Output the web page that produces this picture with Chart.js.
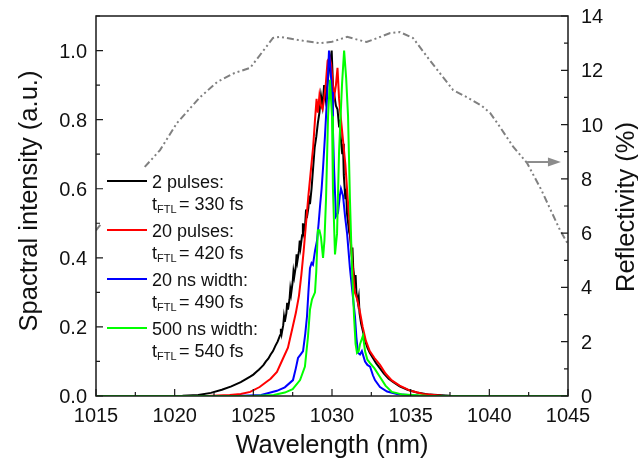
<!DOCTYPE html>
<html>
<head>
<meta charset="utf-8">
<script src="https://cdn.jsdelivr.net/npm/chart.js@4.4.0/dist/chart.umd.min.js"></script>
<style>
  html, body { margin: 0; padding: 0; background: #fff; }
</style>
</head>
<body>
<canvas id="grafico" width="638" height="465"></canvas>
<script>
// espectros: comprimento de onda (nm) e intensidade normalizada
const wl2pulses = [1015, 1019, 1020.5, 1021.5, 1022.3, 1023.0, 1023.6, 1024.2, 1024.5, 1024.8, 1025.0, 1025.2, 1025.35, 1025.5, 1025.65, 1025.8, 1025.95, 1026.1, 1026.25, 1026.4, 1026.55, 1026.7, 1026.75, 1026.8, 1026.9, 1026.95, 1027.0, 1027.1, 1027.15, 1027.2, 1027.3, 1027.35, 1027.4, 1027.5, 1027.55, 1027.6, 1027.7, 1027.75, 1027.8, 1027.9, 1027.95, 1028.0, 1028.1, 1028.15, 1028.2, 1028.3, 1028.35, 1028.4, 1028.5, 1028.55, 1028.6, 1028.7, 1028.8, 1028.9, 1029.0, 1029.1, 1029.2, 1029.3, 1029.4, 1029.5, 1029.6, 1029.7, 1029.8, 1029.9, 1029.98, 1030.06, 1030.15, 1030.25, 1030.35, 1030.45, 1030.5, 1030.55, 1030.65, 1030.7, 1030.75, 1030.85, 1030.9, 1030.95, 1031.05, 1031.1, 1031.15, 1031.25, 1031.3, 1031.35, 1031.45, 1031.5, 1031.55, 1031.65, 1031.7, 1031.75, 1031.85, 1031.95, 1032.1, 1032.25, 1032.4, 1032.6, 1032.8, 1033.05, 1033.3, 1033.6, 1033.9, 1034.3, 1034.8, 1035.4, 1036.2, 1037.5, 1039, 1045];
const int2pulses = [0, 0, 0.001, 0.003, 0.009, 0.018, 0.028, 0.04, 0.048, 0.056, 0.062, 0.07, 0.076, 0.083, 0.09, 0.1, 0.108, 0.12, 0.13, 0.145, 0.158, 0.176, 0.195, 0.18, 0.205, 0.23, 0.215, 0.24, 0.27, 0.25, 0.28, 0.31, 0.295, 0.33, 0.36, 0.345, 0.375, 0.41, 0.39, 0.42, 0.45, 0.43, 0.465, 0.5, 0.475, 0.5, 0.54, 0.515, 0.545, 0.58, 0.555, 0.6, 0.66, 0.72, 0.75, 0.79, 0.82, 0.87, 0.84, 0.9, 0.86, 0.9, 0.94, 0.97, 1.0, 0.9, 0.87, 0.84, 0.83, 0.78, 0.8, 0.75, 0.7, 0.73, 0.64, 0.57, 0.6, 0.53, 0.49, 0.51, 0.46, 0.41, 0.43, 0.37, 0.33, 0.35, 0.3, 0.27, 0.285, 0.24, 0.21, 0.19, 0.16, 0.14, 0.125, 0.11, 0.095, 0.08, 0.065, 0.05, 0.04, 0.028, 0.018, 0.01, 0.004, 0.001, 0, 0];

const wl20pulses = [1015, 1022, 1023.5, 1024.2, 1024.8, 1025.4, 1025.8, 1026.1, 1026.5, 1026.9, 1027.2, 1027.5, 1027.7, 1027.9, 1028.05, 1028.2, 1028.35, 1028.5, 1028.65, 1028.8, 1028.92, 1029.02, 1029.1, 1029.2, 1029.3, 1029.4, 1029.5, 1029.6, 1029.72, 1029.85, 1029.95, 1030.05, 1030.15, 1030.25, 1030.35, 1030.45, 1030.55, 1030.7, 1030.85, 1031.0, 1031.15, 1031.3, 1031.45, 1031.6, 1031.75, 1031.95, 1032.15, 1032.4, 1032.7, 1033.05, 1033.4, 1033.8, 1034.3, 1035.0, 1035.8, 1037, 1045];
const int20pulses = [0, 0, 0.003, 0.006, 0.012, 0.026, 0.04, 0.05, 0.07, 0.11, 0.14, 0.2, 0.24, 0.29, 0.35, 0.42, 0.5, 0.58, 0.65, 0.72, 0.8, 0.86, 0.82, 0.87, 0.84, 0.83, 0.86, 0.9, 0.97, 0.98, 0.96, 0.9, 0.87, 0.9, 0.95, 0.86, 0.81, 0.74, 0.67, 0.57, 0.48, 0.38, 0.3, 0.28, 0.25, 0.2, 0.16, 0.13, 0.11, 0.09, 0.065, 0.045, 0.03, 0.015, 0.006, 0.001, 0];

const wl20ns = [1015, 1024, 1025.5, 1026.5, 1027.0, 1027.52, 1027.7, 1027.84, 1028.0, 1028.16, 1028.3, 1028.41, 1028.5, 1028.6, 1028.7, 1028.79, 1028.92, 1029.05, 1029.15, 1029.24, 1029.34, 1029.43, 1029.55, 1029.68, 1029.81, 1029.9, 1030.0, 1030.06, 1030.13, 1030.25, 1030.38, 1030.5, 1030.57, 1030.7, 1030.83, 1030.96, 1031.14, 1031.3, 1031.46, 1031.55, 1031.65, 1031.78, 1031.9, 1032.1, 1032.25, 1032.42, 1032.6, 1032.73, 1033.05, 1033.5, 1034.2, 1035.5, 1045];
const int20ns = [0, 0, 0.003, 0.015, 0.025, 0.046, 0.08, 0.11, 0.12, 0.13, 0.18, 0.23, 0.3, 0.37, 0.385, 0.38, 0.42, 0.45, 0.5, 0.55, 0.6, 0.66, 0.75, 0.86, 1.0, 0.95, 0.88, 0.77, 0.66, 0.52, 0.53, 0.58, 0.6, 0.58, 0.52, 0.47, 0.37, 0.3, 0.23, 0.17, 0.125, 0.12, 0.13, 0.1, 0.09, 0.085, 0.06, 0.046, 0.026, 0.013, 0.005, 0.001, 0];

const wl500ns = [1015, 1025, 1026.3, 1027.0, 1027.5, 1027.97, 1028.28, 1028.47, 1028.6, 1028.73, 1028.92, 1029.0, 1029.1, 1029.2, 1029.3, 1029.43, 1029.52, 1029.62, 1029.75, 1029.87, 1030.0, 1030.06, 1030.19, 1030.32, 1030.45, 1030.64, 1030.77, 1030.9, 1031.02, 1031.14, 1031.27, 1031.4, 1031.5, 1031.59, 1031.7, 1031.78, 1031.97, 1032.1, 1032.25, 1032.42, 1032.7, 1033.05, 1033.4, 1033.8, 1034.5, 1036, 1045];
const int500ns = [0, 0, 0.003, 0.01, 0.02, 0.046, 0.085, 0.17, 0.25, 0.28, 0.3, 0.36, 0.48, 0.48, 0.46, 0.4, 0.45, 0.57, 0.81, 0.915, 0.81, 0.6, 0.41, 0.47, 0.71, 0.905, 1.0, 0.92, 0.81, 0.57, 0.37, 0.23, 0.15, 0.125, 0.13, 0.15, 0.175, 0.13, 0.105, 0.095, 0.08, 0.055, 0.03, 0.012, 0.004, 0.001, 0];

// refletividade do espelho (%)
const wlRefl = [1015.0, 1018.1, 1019.07, 1020.15, 1021.6, 1022.7, 1023.8, 1024.8, 1026.25, 1026.7, 1028.0, 1029.24, 1030.0, 1030.96, 1032.2, 1033.7, 1034.3, 1035.15, 1036.2, 1037.7, 1038.6, 1039.5, 1040.05, 1040.5, 1041.5, 1042.4, 1043.3, 1044.5, 1045.0];
const refl = [6.1, 8.44, 9.06, 10.06, 11.0, 11.57, 11.9, 12.09, 13.19, 13.23, 13.1, 13.0, 13.05, 13.23, 13.04, 13.37, 13.41, 13.19, 12.38, 11.27, 11.0, 10.7, 10.43, 10.06, 9.2, 8.58, 7.6, 6.1, 5.6];

const xTicks = [1015, 1020, 1025, 1030, 1035, 1040, 1045];
const yTicks = [0.0, 0.2, 0.4, 0.6, 0.8, 1.0];
const y2Ticks = [0, 2, 4, 6, 8, 10, 12, 14];

const legendNames = ['2 pulses:', '20 pulses:', '20 ns width:', '500 ns width:'];
const legendFtl = ['330 fs', '420 fs', '490 fs', '540 fs'];
const cores = ['#000000', '#ff0000', '#0000ff', '#00ff00'];

// seta apontando para o eixo da direita (em unidades dos eixos)
const setaX = [1042.4, 1044.55];
const setaY = 8.62;

const FONTE = '"Liberation Sans", Arial, sans-serif';

function pares(xs, ys) {
  return xs.map((x, i) => ({ x: x, y: ys[i] }));
}

const extras = {
  id: 'extras',
  afterDatasetsDraw(chart) {
    const ctx = chart.ctx;
    const sx = chart.scales.x, sy = chart.scales.y, sr = chart.scales.y2;
    // area do grafico a partir das escalas
    const a = {
      left: sx.getPixelForValue(1015), right: sx.getPixelForValue(1045),
      top: sy.getPixelForValue(1.1), bottom: sy.getPixelForValue(0)
    };
    ctx.save();

    // caixa da legenda (fundo branco cobre a curva cinza)
    ctx.fillStyle = '#ffffff';
    ctx.fillRect(a.left + 5, a.top + 152, 160, 192);
    legendNames.forEach((nome, i) => {
      const yc = a.top + 165 + i * 49;
      ctx.strokeStyle = cores[i];
      ctx.lineWidth = 2;
      ctx.beginPath();
      ctx.moveTo(a.left + 11, yc);
      ctx.lineTo(a.left + 51, yc);
      ctx.stroke();
      ctx.fillStyle = '#111';
      ctx.textAlign = 'left';
      ctx.textBaseline = 'alphabetic';
      ctx.font = '18px ' + FONTE;
      ctx.fillText(nome, a.left + 56, yc + 7);
      const yb = yc + 29;
      ctx.fillText('t', a.left + 56, yb);
      ctx.font = '11px ' + FONTE;
      ctx.fillText('FTL', a.left + 61, yb + 3);
      ctx.font = '18px ' + FONTE;
      ctx.fillText('= ' + legendFtl[i], a.left + 83, yb);
    });

    // seta cinza
    const ys = sr.getPixelForValue(setaY);
    const x0 = sx.getPixelForValue(setaX[0]);
    const x1 = sx.getPixelForValue(setaX[1]);
    ctx.strokeStyle = '#8c8c8c';
    ctx.fillStyle = '#8c8c8c';
    ctx.lineWidth = 2;
    ctx.beginPath();
    ctx.moveTo(x0, ys);
    ctx.lineTo(x1 - 10, ys);
    ctx.stroke();
    ctx.beginPath();
    ctx.moveTo(x1, ys);
    ctx.lineTo(x1 - 13, ys - 4.5);
    ctx.lineTo(x1 - 13, ys + 4.5);
    ctx.closePath();
    ctx.fill();

    // moldura
    ctx.strokeStyle = '#1a1a1a';
    ctx.lineWidth = 1.5;
    ctx.strokeRect(a.left, a.top, a.right - a.left, a.bottom - a.top);

    // marcas dos eixos, para dentro
    ctx.lineWidth = 1.2;
    ctx.beginPath();
    xTicks.forEach((v, i) => {
      const p = sx.getPixelForValue(v);
      ctx.moveTo(p, a.bottom); ctx.lineTo(p, a.bottom - 7);
      if (i < xTicks.length - 1) {
        const m = sx.getPixelForValue((v + xTicks[i + 1]) / 2);
        ctx.moveTo(m, a.bottom); ctx.lineTo(m, a.bottom - 4);
      }
    });
    yTicks.forEach(v => {
      const p = sy.getPixelForValue(v);
      ctx.moveTo(a.left, p); ctx.lineTo(a.left + 7, p);
      const m = sy.getPixelForValue(v + 0.1);
      ctx.moveTo(a.left, m); ctx.lineTo(a.left + 4, m);
    });
    y2Ticks.forEach((v, i) => {
      const p = sr.getPixelForValue(v);
      ctx.moveTo(a.right, p); ctx.lineTo(a.right - 7, p);
      if (i < y2Ticks.length - 1) {
        const m = sr.getPixelForValue(v + 1);
        ctx.moveTo(a.right, m); ctx.lineTo(a.right - 4, m);
      }
    });
    ctx.stroke();

    // rotulos dos eixos
    ctx.fillStyle = '#111';
    ctx.font = '20px ' + FONTE;
    ctx.textBaseline = 'alphabetic';
    ctx.textAlign = 'center';
    xTicks.forEach(v => ctx.fillText(String(v), sx.getPixelForValue(v), a.bottom + 26));
    ctx.textAlign = 'right';
    yTicks.forEach(v => ctx.fillText(v.toFixed(1), a.left - 9, sy.getPixelForValue(v) + 7));
    ctx.textAlign = 'left';
    y2Ticks.forEach(v => ctx.fillText(String(v), a.right + 13, sr.getPixelForValue(v) + 7));

    // titulos dos eixos
    ctx.font = '25.5px ' + FONTE;
    ctx.textAlign = 'center';
    ctx.fillText('Wavelength (nm)', (a.left + a.right) / 2, 453);
    ctx.save();
    ctx.translate(37, 201);
    ctx.rotate(-Math.PI / 2);
    ctx.fillText('Spactral intensity (a.u.)', 0, 0);
    ctx.restore();
    ctx.save();
    ctx.translate(634, 207);
    ctx.rotate(-Math.PI / 2);
    ctx.fillText('Reflectivity (%)', 0, 0);
    ctx.restore();

    ctx.restore();
  }
};

const linha = (dados, cor, ordem) => ({
  data: dados,
  showLine: true,
  borderColor: cor,
  borderWidth: 2,
  pointRadius: 0,
  tension: 0,
  order: ordem,
  yAxisID: 'y'
});

const datasets = [
  Object.assign(linha(pares(wlRefl, refl), '#808080', 4), { yAxisID: 'y2', borderDash: [7, 3, 2, 3, 2, 3] }),
  linha(pares(wl2pulses, int2pulses), cores[0], 3),
  linha(pares(wl20pulses, int20pulses), cores[1], 2),
  linha(pares(wl20ns, int20ns), cores[2], 1),
  linha(pares(wl500ns, int500ns), cores[3], 0)
];

const semRotulos = { display: false };

new Chart(document.getElementById('grafico'), {
  type: 'scatter',
  data: { datasets: datasets },
  options: {
    responsive: false,
    animation: false,
    layout: { padding: { top: 16, left: 0, right: 0, bottom: 0 } },
    plugins: { legend: { display: false }, tooltip: { enabled: false } },
    scales: {
      x: {
        type: 'linear', min: 1015, max: 1045,
        grid: { display: false, drawTicks: false },
        border: { display: false },
        ticks: semRotulos,
        afterFit: s => { s.height = 69; }
      },
      y: {
        type: 'linear', position: 'left', min: 0, max: 1.1,
        grid: { display: false, drawTicks: false },
        border: { display: false },
        ticks: semRotulos,
        afterFit: s => { s.width = 96; }
      },
      y2: {
        type: 'linear', position: 'right', min: 0, max: 14,
        grid: { display: false, drawTicks: false },
        border: { display: false },
        ticks: semRotulos,
        afterFit: s => { s.width = 70; }
      }
    }
  },
  plugins: [extras]
});
</script>
</body>
</html>
